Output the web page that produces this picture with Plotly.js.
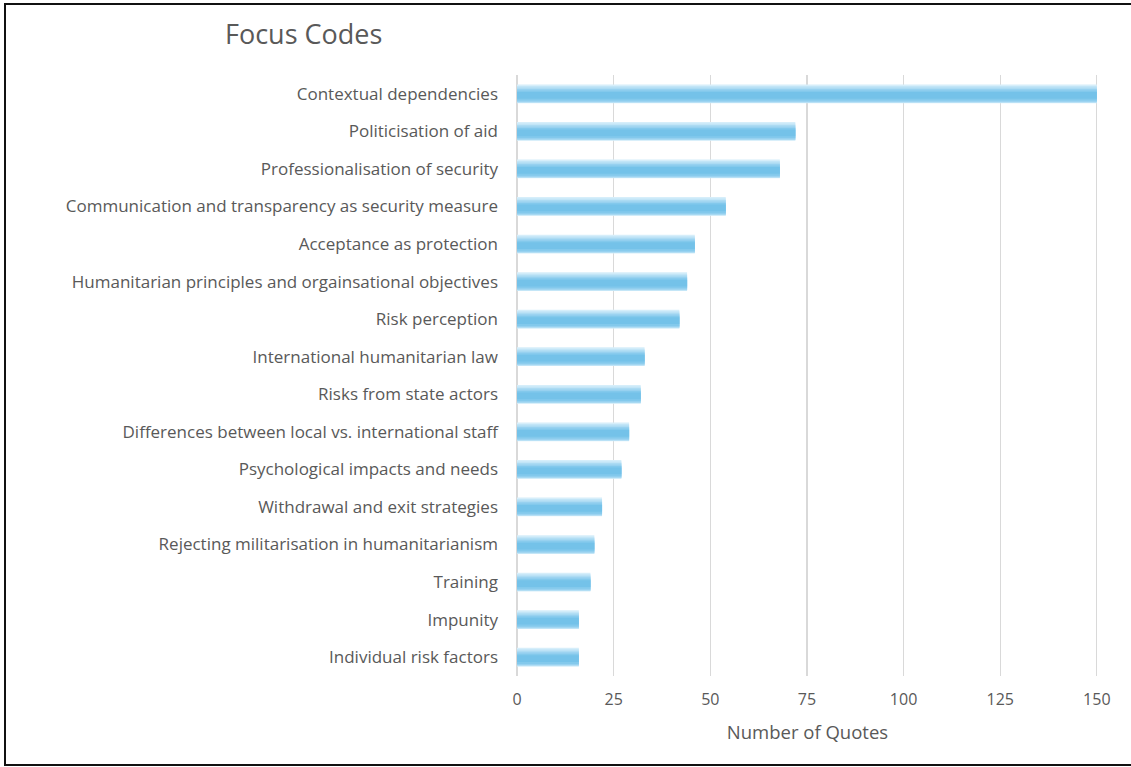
<!DOCTYPE html>
<html><head><meta charset="utf-8">
<script src="https://cdn.plot.ly/plotly-3.0.1.min.js"></script>
<style>
html,body{margin:0;padding:0;background:#fff;}
#chart{width:1131px;height:767px;}
#frame{position:absolute;left:4px;top:3px;width:1140px;height:763px;border:2px solid #111;pointer-events:none;box-sizing:border-box;}
</style></head>
<body>
<div id="chart"></div>
<div id="frame"></div>
<script>
const categories = [
  "Contextual dependencies",
  "Politicisation of aid",
  "Professionalisation of security",
  "Communication and transparency as security measure",
  "Acceptance as protection",
  "Humanitarian principles and orgainsational objectives",
  "Risk perception",
  "International humanitarian law",
  "Risks from state actors",
  "Differences between local vs. international staff",
  "Psychological impacts and needs",
  "Withdrawal and exit strategies",
  "Rejecting militarisation in humanitarianism",
  "Training",
  "Impunity",
  "Individual risk factors"
];
const quotes = [150, 72, 68, 54, 46, 44, 42, 33, 32, 29, 27, 22, 20, 19, 16, 16];
const xTicks = [0, 25, 50, 75, 100, 125, 150];

const layers = [
  {offset: -0.25, width: 0.50, color: "#d6eefa"},
  {offset: -0.21, width: 0.45, color: "#c2e5f7"},
  {offset: -0.17, width: 0.40, color: "#acdbf3"},
  {offset: -0.13, width: 0.34, color: "#97d1f0"},
  {offset: -0.09, width: 0.27, color: "#83c9ec"},
  {offset: -0.05, width: 0.18, color: "#74c2e9"}
];
const traces = layers.map(l => ({
  type: "bar",
  orientation: "h",
  y: categories,
  x: quotes,
  offset: l.offset,
  width: l.width,
  marker: {color: l.color, line: {width: 0}},
  hoverinfo: "x+y",
  showlegend: false
}));

const layout = {
  width: 1131, height: 767,
  margin: {l: 517, r: 33, t: 75, b: 91},
  paper_bgcolor: "#fff", plot_bgcolor: "#fff",
  barmode: "overlay",
  font: {family: "'Open Sans', Roboto, sans-serif", color: "#595959"},
  title: {text: "Focus Codes", x: 225/1131, xanchor: "left", y: 1 - 35/767, yanchor: "middle",
          font: {size: 27, color: "#595959"}},
  xaxis: {
    range: [0, 150.3], tickvals: xTicks, ticktext: xTicks.map(String),
    showgrid: true, gridcolor: "#d9d9d9", gridwidth: 1.3,
    zeroline: true, zerolinecolor: "#d9d9d9", zerolinewidth: 1.3,
    showline: false, ticks: "", ticklabelstandoff: 12,
    tickfont: {size: 16, color: "#595959"},
    title: {text: "Number of Quotes", font: {size: 18.5, color: "#595959"}, standoff: 17}
  },
  yaxis: {
    type: "category", autorange: "reversed",
    showgrid: false, zeroline: false, showline: false, ticks: "",
    ticklabelstandoff: 18,
    tickfont: {size: 17, color: "#595959"}
  }
};
Plotly.newPlot("chart", traces, layout, {displayModeBar: false, staticPlot: true});
</script>
</body></html>
